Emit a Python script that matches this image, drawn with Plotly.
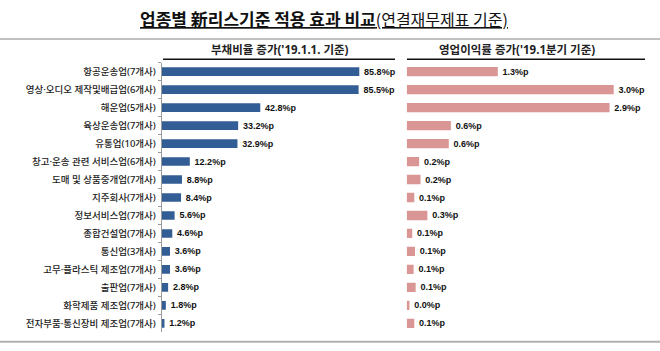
import plotly.graph_objects as go

categories = [
    "항공운송업(7개사)", "영상·오디오 제작및배급업(6개사)", "해운업(5개사)", "육상운송업(7개사)",
    "유통업(10개사)", "창고·운송 관련 서비스업(6개사)", "도매 및 상품중개업(7개사)", "지주회사(7개사)",
    "정보서비스업(7개사)", "종합건설업(7개사)", "통신업(3개사)", "고무·플라스틱 제조업(7개사)",
    "출판업(7개사)", "화학제품 제조업(7개사)", "전자부품·통신장비 제조업(7개사)",
]
debt_ratio_increase = [85.8, 85.5, 42.8, 33.2, 32.9, 12.2, 8.8, 8.4, 5.6, 4.6, 3.6, 3.6, 2.8, 1.8, 1.2]
op_margin_increase = [1.32, 3.0, 2.94, 0.64, 0.61, 0.18, 0.2, 0.11, 0.3, 0.08, 0.12, 0.1, 0.13, 0.04, 0.11]

left_title = "부채비율 증가('19.1.1. 기준)"
right_title = "영업이익률 증가('19.1분기 기준)"
main_title = "업종별 新리스기준 적용 효과 비교"
sub_title = "(연결재무제표 기준)"

W, H = 660, 351
KR = "Noto Sans CJK KR"
MIX = "Noto Sans, Noto Sans CJK KR"

def px_x(p):
    return p / W

def px_y(p):
    return (H - p) / H

label_font = dict(family="Liberation Sans", size=9, color="#111111", weight="bold")

fig = go.Figure()
fig.add_trace(go.Bar(
    y=categories, x=debt_ratio_increase, orientation="h",
    marker=dict(color="#335E95", line=dict(width=0)), width=0.48,
    text=[f"\u2009{v:.1f}%p" for v in debt_ratio_increase], textposition="outside",
    textfont=label_font,
    constraintext="none", cliponaxis=False, xaxis="x", yaxis="y", hoverinfo="skip",
))
fig.add_trace(go.Bar(
    y=categories, x=op_margin_increase, orientation="h",
    marker=dict(color="#D99694", line=dict(width=0)), width=0.52,
    text=[f"\u2009{v:.1f}%p" for v in op_margin_increase], textposition="outside",
    textfont=label_font,
    constraintext="none", cliponaxis=False, xaxis="x2", yaxis="y", hoverinfo="skip",
))

ydom = [px_y(332.3), px_y(62.7)]
fig.update_layout(
    width=W, height=H, margin=dict(l=0, r=0, t=0, b=0),
    paper_bgcolor="white", plot_bgcolor="white", showlegend=False, bargap=0.5,
    xaxis=dict(domain=[px_x(161.7), px_x(395)], range=[0, (395 - 161.7) / 2.303],
               showgrid=False, zeroline=False, showticklabels=False, showline=False, ticks=""),
    xaxis2=dict(domain=[px_x(406.7), px_x(645)], range=[0, (645 - 406.7) / 69.0],
                showgrid=False, zeroline=False, showticklabels=False, showline=False, ticks="",
                anchor="y"),
    yaxis=dict(domain=ydom, type="category", autorange="reversed", anchor="x",
               showline=True, linecolor="#9a9a9a", linewidth=1,
               ticks="outside", tickson="boundaries", ticklen=3, tickcolor="#9a9a9a",
               ticklabelstandoff=3, showgrid=False, zeroline=False,
               tickfont=dict(family=MIX, size=9.5, color="#1a1a1a", weight=500)),
)

shapes = [
    dict(type="line", xref="paper", yref="paper", x0=0, x1=1, y0=px_y(39), y1=px_y(39),
         line=dict(color="#C0C0C0", width=2)),
    dict(type="line", xref="paper", yref="paper", x0=0, x1=1, y0=px_y(341.7), y1=px_y(341.7),
         line=dict(color="#B0B0B0", width=2)),
    dict(type="line", xref="paper", yref="paper", x0=px_x(163), x1=px_x(395), y0=px_y(59.3), y1=px_y(59.3),
         line=dict(color="#111111", width=1.5)),
    dict(type="line", xref="paper", yref="paper", x0=px_x(407), x1=px_x(645), y0=px_y(59.3), y1=px_y(59.3),
         line=dict(color="#111111", width=1.5)),
]
fig.update_layout(shapes=shapes)

annotations = [
    dict(text=f"<u><b>{main_title}</b><span style='font-size:16px'>{sub_title}</span></u>",
         xref="paper", yref="paper", x=px_x(324), y=px_y(19), xanchor="center", yanchor="middle",
         showarrow=False, font=dict(family=KR, size=17, color="#111111")),
    dict(text=f"<b>{left_title}</b>", xref="paper", yref="paper", x=px_x(280), y=px_y(49),
         xanchor="center", yanchor="middle", showarrow=False,
         font=dict(family=MIX, size=11.5, color="#222222")),
    dict(text=f"<b>{right_title}</b>", xref="paper", yref="paper", x=px_x(517), y=px_y(49),
         xanchor="center", yanchor="middle", showarrow=False,
         font=dict(family=MIX, size=11.5, color="#222222")),
]
fig.update_layout(annotations=annotations)

fig.write_html("out.html")
